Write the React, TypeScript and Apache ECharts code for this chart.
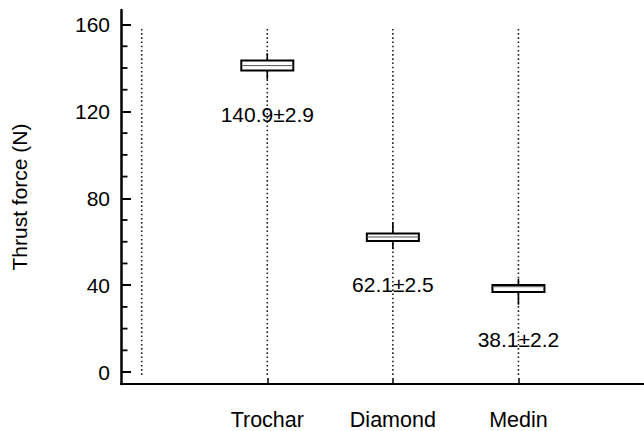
import React, { useEffect, useRef } from "react";
import * as echarts from "echarts";

const categories = ["Trochar", "Diamond", "Medin"];
const positions = [1, 2, 3];
const gridPositions = [0, 1, 2, 3];
const means = [140.9, 62.1, 38.1];
const sds = [2.9, 2.5, 2.2];
const whiskerMax = [146.8, 68.7, 43.0];
const boxTop = [143.4, 63.8, 40.1];
const medians = [141.1, 62.2, 39.3];
const boxBottom = [138.8, 60.3, 36.9];
const whiskerMin = [134.8, 56.5, 31.0];
const majorTicks = [0, 40, 80, 120, 160];
const minorTicks = [10, 20, 30, 50, 60, 70, 90, 100, 110, 130, 140, 150];

const FONT = "'Liberation Sans', Arial, Helvetica, sans-serif";
const INK = "#000";
const X_MIN = -0.165;
const X_MAX = 4.0;
const Y_MIN = -5.5;
const Y_MAX = 166.7;

export default function App() {
  const ref = useRef<HTMLDivElement>(null);
  useEffect(() => {
    if (!ref.current) return;
    const chart = echarts.init(ref.current, null, { renderer: "svg" });
    const option: any = {
      animation: false,
      backgroundColor: "#fff",
      textStyle: { fontFamily: FONT },
      grid: { left: 121, right: 0, top: 10, bottom: 46 },
      xAxis: {
        type: "value",
        min: X_MIN,
        max: X_MAX,
        axisLine: { show: true, onZero: false, lineStyle: { color: INK, width: 2 } },
        axisTick: { show: true, inside: true, length: 6, customValues: positions, lineStyle: { color: INK, width: 1.5 } },
        axisLabel: {
          show: true,
          customValues: positions,
          margin: 25,
          fontSize: 21.5,
          color: INK,
          fontFamily: FONT,
          formatter: (v: number) => {
            const i = positions.indexOf(Math.round(v));
            return i >= 0 ? categories[i] : "";
          },
        },
        splitLine: { show: false },
      },
      yAxis: {
        type: "value",
        min: Y_MIN,
        max: Y_MAX,
        position: "left",
        name: "Thrust force (N)",
        nameLocation: "middle",
        nameGap: 91,
        nameTextStyle: { fontSize: 21, color: INK, fontFamily: FONT },
        axisLine: { show: true, onZero: false, lineStyle: { color: INK, width: 2.5 } },
        axisTick: { show: true, inside: true, length: 10, customValues: majorTicks, lineStyle: { color: INK, width: 2 } },
        axisLabel: { show: true, customValues: majorTicks, margin: 11, fontSize: 21, color: INK, fontFamily: FONT },
        splitLine: { show: false },
      },
      series: [
        {
          type: "custom",
          name: "minorTicks",
          silent: true,
          clip: false,
          data: minorTicks.map((v) => [X_MIN, v]),
          encode: { x: 0, y: 1 },
          renderItem: (params: any, api: any) => {
            const p = api.coord([api.value(0), api.value(1)]);
            return {
              type: "line",
              shape: { x1: p[0], y1: p[1], x2: p[0] + 6.5, y2: p[1] },
              style: { stroke: INK, lineWidth: 1.8 },
              z2: 10,
            };
          },
          z: 5,
        },
        {
          type: "custom",
          name: "guides",
          silent: true,
          data: gridPositions.map((x) => [x]),
          encode: { x: 0 },
          renderItem: (params: any, api: any) => {
            const x = api.value(0);
            const p1 = api.coord([x, 158]);
            const p2 = api.coord([x, -2]);
            return {
              type: "line",
              shape: { x1: p1[0], y1: p1[1], x2: p2[0], y2: p2[1] },
              style: { stroke: "#222", lineWidth: 1.6, lineDash: [1.6, 2.6] },
            };
          },
          z: 1,
        },
        {
          type: "custom",
          name: "thrust",
          data: positions.map((x, i) => [x, whiskerMin[i], boxBottom[i], medians[i], boxTop[i], whiskerMax[i]]),
          encode: { x: 0, y: [1, 2, 3, 4, 5] },
          renderItem: (params: any, api: any) => {
            const i = params.dataIndex;
            const x = api.value(0);
            const pMin = api.coord([x, api.value(1)]);
            const pQ1 = api.coord([x, api.value(2)]);
            const pMed = api.coord([x, api.value(3)]);
            const pQ3 = api.coord([x, api.value(4)]);
            const pMax = api.coord([x, api.value(5)]);
            const cx = pMin[0];
            const half = 26;
            return {
              type: "group",
              children: [
                {
                  type: "line",
                  shape: { x1: cx, y1: pMax[1], x2: cx, y2: pQ3[1] },
                  style: { stroke: INK, lineWidth: 1.6 },
                },
                {
                  type: "line",
                  shape: { x1: cx, y1: pQ1[1], x2: cx, y2: pMin[1] },
                  style: { stroke: INK, lineWidth: 1.6 },
                },
                {
                  type: "rect",
                  shape: { x: cx - half, y: pQ3[1], width: half * 2, height: pQ1[1] - pQ3[1] },
                  style: { fill: "#fff", stroke: INK, lineWidth: 2 },
                },
                {
                  type: "line",
                  shape: { x1: cx - half, y1: pMed[1], x2: cx + half, y2: pMed[1] },
                  style: { stroke: "#555", lineWidth: 1 },
                },
                {
                  type: "text",
                  x: cx,
                  y: pMin[1] + 35,
                  style: {
                    text: means[i].toFixed(1) + "\u00b1" + sds[i].toFixed(1),
                    fontSize: 21,
                    fontFamily: FONT,
                    fill: INK,
                    align: "center",
                    verticalAlign: "middle",
                  },
                },
              ],
            };
          },
          z: 2,
        },
      ],
    };
    chart.setOption(option);
    return () => chart.dispose();
  }, []);
  return (
    <div
      ref={ref}
      style={{ position: "fixed", left: 0, top: 0, width: 644, height: 431, background: "#fff" }}
    />
  );
}
